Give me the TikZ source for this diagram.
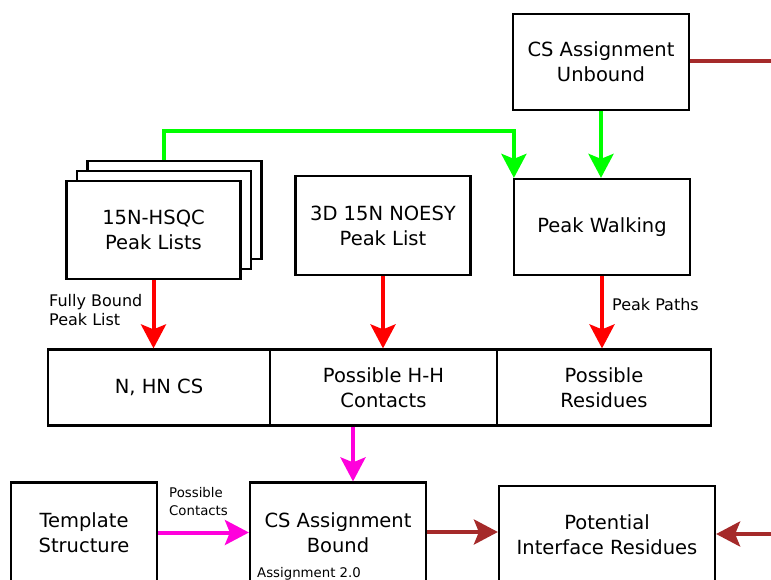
\documentclass[tikz,border=0pt]{standalone}
\usepackage{fontspec}
\setmainfont{DejaVu Sans}
\usetikzlibrary{arrows.meta}
\definecolor{fgreen}{RGB}{0,255,0}
\definecolor{fred}{RGB}{255,0,0}
\definecolor{fmag}{RGB}{255,0,220}
\definecolor{fbrown}{RGB}{165,42,42}
\tikzset{
  box/.style={draw=black, line width=2.2pt, fill=white, inner sep=0pt,
    align=center, font=\fontsize{19.5}{25}\selectfont},
  flow/.style={line width=4pt, -{Stealth[length=24pt,width=25pt,inset=5pt]}},
  plain/.style={line width=4pt},
  lbl/.style={inner sep=0pt, align=left, font=\fontsize{16}{19}\selectfont},
  slbl/.style={inner sep=0pt, align=left, font=\fontsize{13.3}{18}\selectfont},
}
\begin{document}
\begin{tikzpicture}[x=1pt,y=-1pt]
  \useasboundingbox (0,0) rectangle (771,580);
  \clip (0,0) rectangle (771,580);

  % top row
  \node[box, minimum width=176pt, minimum height=96pt] (unb) at (601,62)
    {CS Assignment\\Unbound};
  \coordinate (unbout) at (771,61);

  % stacked peak lists
  \node[box, minimum width=174pt, minimum height=98pt] (hs3) at (174.5,210) {};
  \node[box, minimum width=174pt, minimum height=98pt] (hs2) at (164,220) {};
  \node[box, minimum width=174pt, minimum height=98pt] (hs1) at (153.5,230)
    {15N-HSQC\\Peak Lists};

  \node[box, minimum width=175pt, minimum height=99pt] (noesy) at (383,225.5)
    {3D 15N NOESY\\Peak List};
  \node[box, minimum width=176pt, minimum height=96pt] (walk) at (602,227)
    {Peak Walking};

  % middle row of three cells
  \node[box, minimum width=222pt, minimum height=76pt] (rowA) at (159,387.5)
    {N, HN CS};
  \node[box, minimum width=227pt, minimum height=76pt] (rowB) at (383.5,387.5)
    {Possible H-H\\Contacts};
  \node[box, minimum width=214pt, minimum height=76pt] (rowC) at (604,387.5)
    {Possible\\Residues};

  % bottom row
  \node[box, minimum width=146pt, minimum height=100pt] (tmpl) at (84,532.5)
    {Template\\Structure};
  \node[box, minimum width=176pt, minimum height=100pt] (bound) at (338,532.5)
    {CS Assignment\\Bound};
  \node[box, minimum width=216pt, minimum height=97pt] (pot) at (607,534.5)
    {Potential\\Interface Residues};
  \coordinate (potin) at (771,534);

  % labels
  \node[lbl, anchor=west] (lfb) at (49,310) {Fully Bound\\Peak List};
  \node[lbl, anchor=west] (lpp) at (612,305) {Peak Paths};
  \node[slbl, anchor=west] (lpc) at (169,502) {Possible\\Contacts};
  \node[slbl, anchor=west] (lav) at (257,574) {Assignment 2.0};

  % green connectors
  \draw[flow, fgreen] ([xshift=-11pt]hs3.north) -- ++(0,-29)
    -| ([xshift=1pt]walk.north west);
  \draw[flow, fgreen] (unb.south) -- (unb.south |- walk.north);

  % red connectors
  \draw[flow, fred] (hs1.south) -- (hs1.south |- rowA.north);
  \draw[flow, fred] (noesy.south) -- (noesy.south |- rowB.north);
  \draw[flow, fred] (walk.south) -- (walk.south |- rowC.north);

  % magenta connectors
  \draw[flow, fmag] ([xshift=-30.5pt]rowB.south)
    -- ([xshift=-30.5pt]rowB.south |- bound.north);
  \draw[flow, fmag] (tmpl.east) -- (bound.west);

  % brown connectors
  \draw[plain, fbrown] (unb.east |- unbout) -- (unbout);
  \draw[flow, fbrown] ([yshift=0.5pt]bound.east) -- ([yshift=0.5pt]bound.east -| pot.west);
  \draw[flow, fbrown] (potin) -- (potin -| pot.east);
\end{tikzpicture}
\end{document}
